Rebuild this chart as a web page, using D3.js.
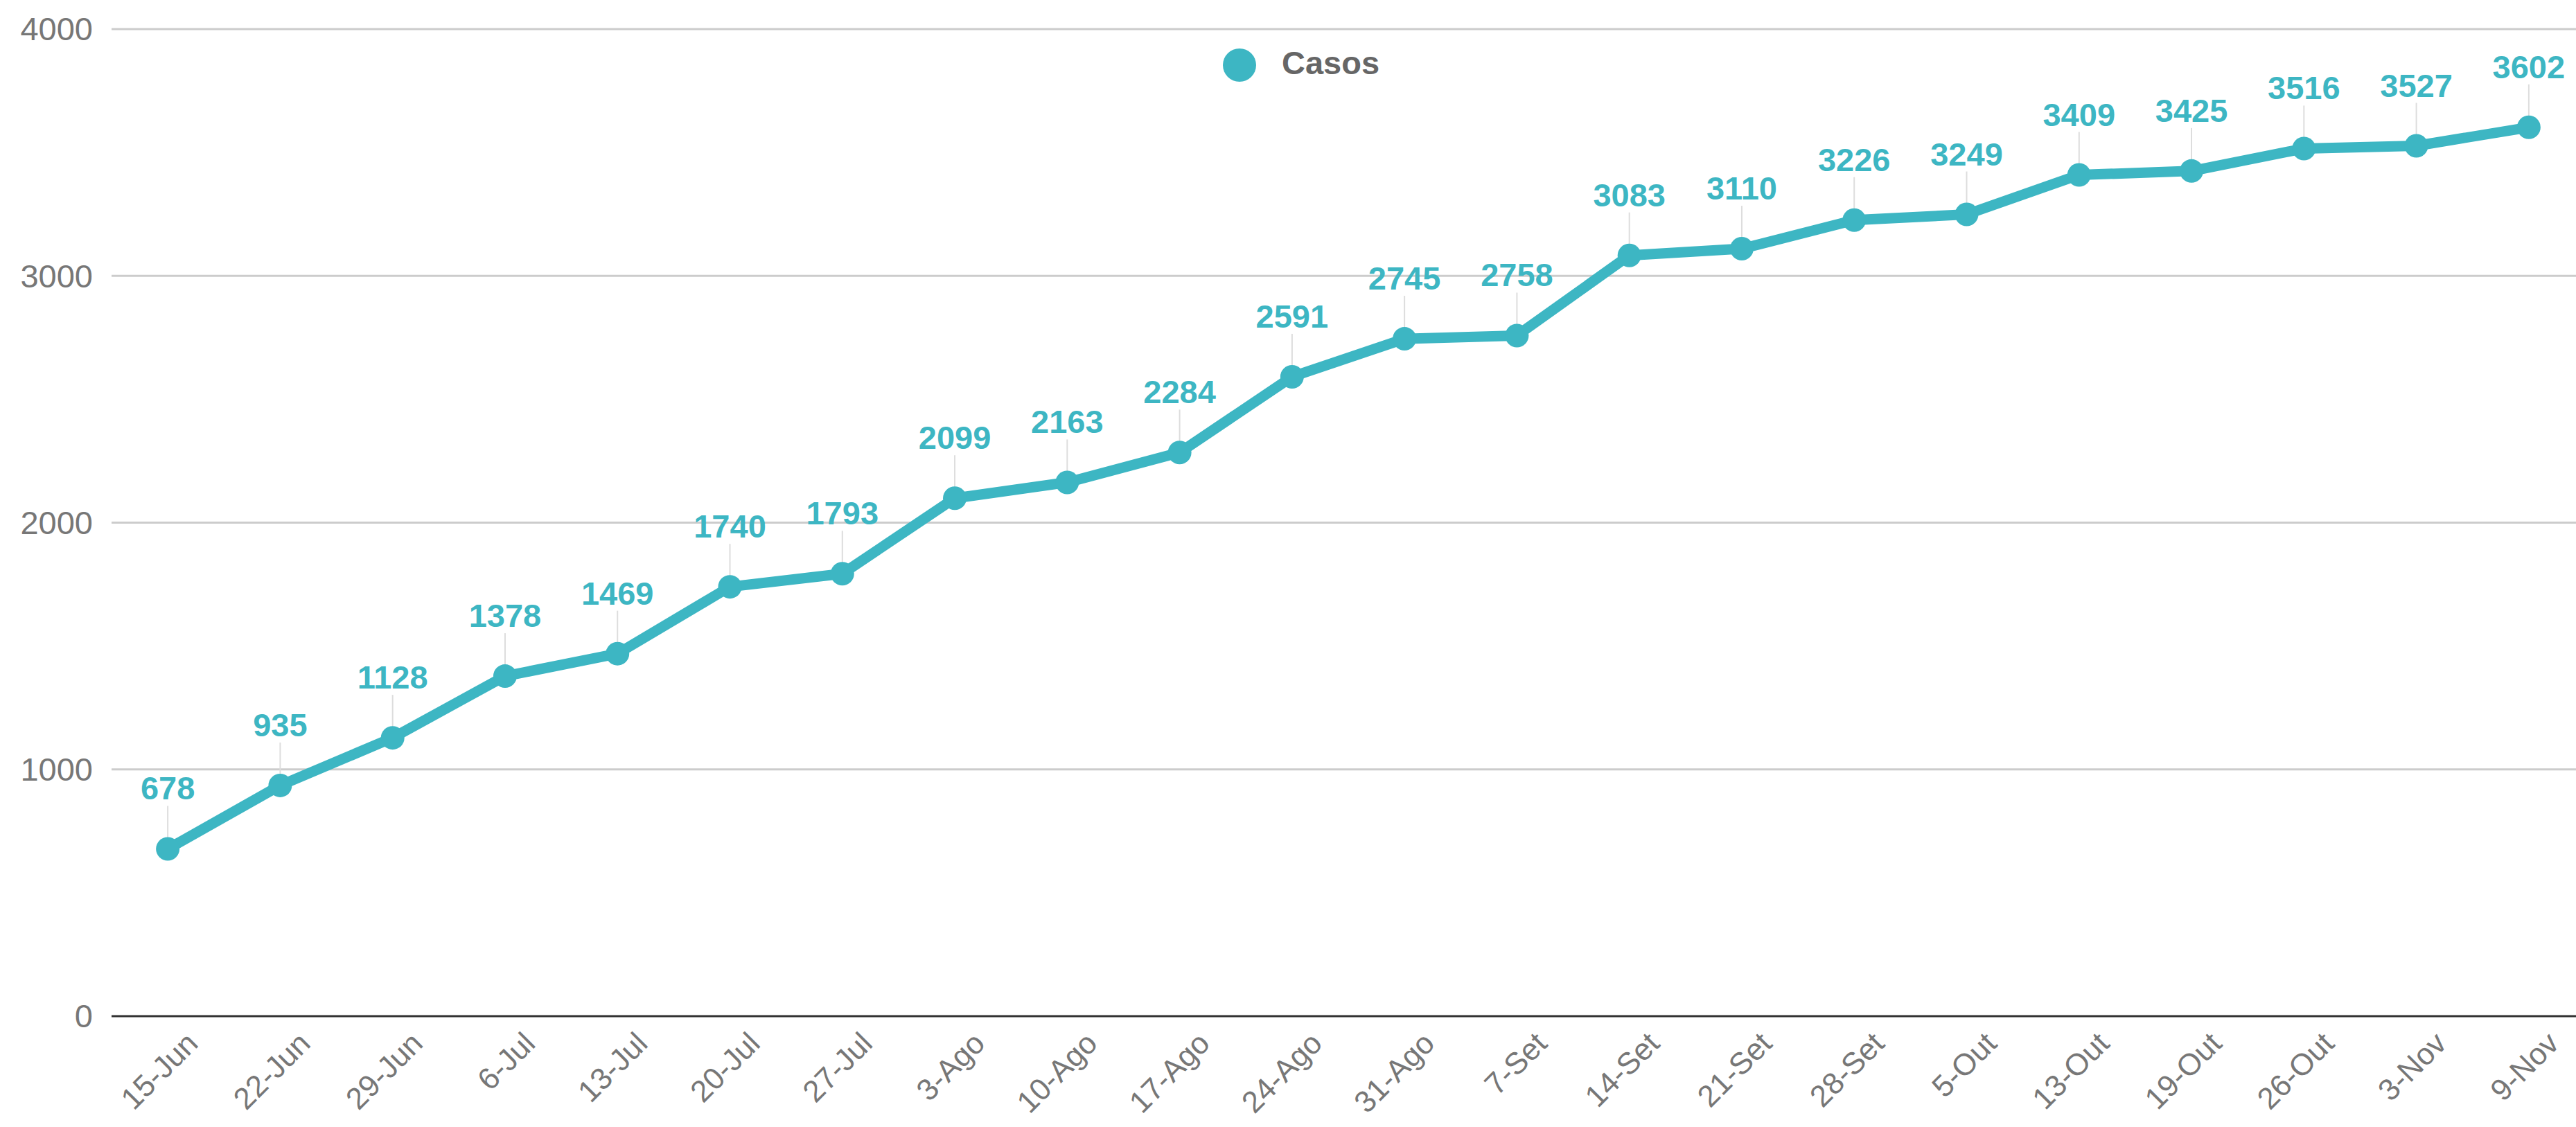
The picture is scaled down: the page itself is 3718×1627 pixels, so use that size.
<!DOCTYPE html>
<html><head><meta charset="utf-8">
<script src="https://cdn.jsdelivr.net/npm/d3@7"></script>
<style>html,body{margin:0;padding:0;background:#fff;overflow:hidden}</style>
</head><body>
<svg id="c" width="3718" height="1627"></svg>
<script>
const categories = ["15-Jun","22-Jun","29-Jun","6-Jul","13-Jul","20-Jul","27-Jul","3-Ago","10-Ago","17-Ago","24-Ago","31-Ago","7-Set","14-Set","21-Set","28-Set","5-Out","13-Out","19-Out","26-Out","3-Nov","9-Nov"];
const casos = [678,935,1128,1378,1469,1740,1793,2099,2163,2284,2591,2745,2758,3083,3110,3226,3249,3409,3425,3516,3527,3602];
const yTicks = [0,1000,2000,3000,4000];
const seriesName = "Casos";

(function(){
const teal = "#3db6c3";
const svg = d3.select("#c");
const pLeft = 161, pRight = 3731, pTop = 42, pBottom = 1467;
const x = d3.scalePoint().domain(categories).range([pLeft, pRight]).padding(0.5);
const y = d3.scaleLinear().domain([0, 4000]).range([pBottom, pTop]);
const font = "'Liberation Sans', Arial, Helvetica, sans-serif";

// gridlines
svg.append("g").selectAll("line").data(yTicks.filter(d => d > 0)).join("line")
  .attr("x1", pLeft).attr("x2", 3718)
  .attr("y1", d => y(d)).attr("y2", d => y(d))
  .attr("stroke", "#cccccc").attr("stroke-width", 3);

// y labels
svg.append("g").selectAll("text").data(yTicks).join("text")
  .attr("x", 134).attr("y", d => y(d)).attr("dy", "0.35em")
  .attr("text-anchor", "end")
  .attr("font-family", font).attr("font-size", 47).attr("fill", "#777")
  .text(d => d);

// x axis line
svg.append("line").attr("x1", pLeft).attr("x2", 3718)
  .attr("y1", y(0)).attr("y2", y(0))
  .attr("stroke", "#333").attr("stroke-width", 3);

// x labels
svg.append("g").selectAll("text").data(categories).join("text")
  .attr("transform", d => `translate(${x(d) + 46},${y(0) + 42}) rotate(-45)`)
  .attr("text-anchor", "end")
  .attr("font-family", font).attr("font-size", 44).attr("fill", "#777")
  .text(d => d);

const pts = categories.map((c, i) => ({c, v: casos[i]}));

// leader lines
svg.append("g").selectAll("line").data(pts).join("line")
  .attr("x1", d => x(d.c)).attr("x2", d => x(d.c))
  .attr("y1", d => y(d.v) - 62).attr("y2", d => y(d.v))
  .attr("stroke", "#dddddd").attr("stroke-width", 2);

// line
svg.append("path").datum(pts)
  .attr("d", d3.line().x(d => x(d.c)).y(d => y(d.v)))
  .attr("fill", "none").attr("stroke", teal).attr("stroke-width", 15)
  .attr("stroke-linejoin", "round");

// points
svg.append("g").selectAll("circle").data(pts).join("circle")
  .attr("cx", d => x(d.c)).attr("cy", d => y(d.v)).attr("r", 17)
  .attr("fill", teal);

// labels
svg.append("g").selectAll("text").data(pts).join("text")
  .attr("x", d => x(d.c)).attr("y", d => y(d.v) - 71)
  .attr("text-anchor", "middle")
  .attr("font-family", font).attr("font-size", 47).attr("font-weight", "bold")
  .attr("fill", teal)
  .text(d => d.v);

// legend
svg.append("circle").attr("cx", 1789).attr("cy", 94).attr("r", 24).attr("fill", teal);
svg.append("text").attr("x", 1850).attr("y", 107)
  .attr("font-family", font).attr("font-size", 47).attr("font-weight", "bold")
  .attr("fill", "#666").text(seriesName);
})();
</script>
</body></html>
